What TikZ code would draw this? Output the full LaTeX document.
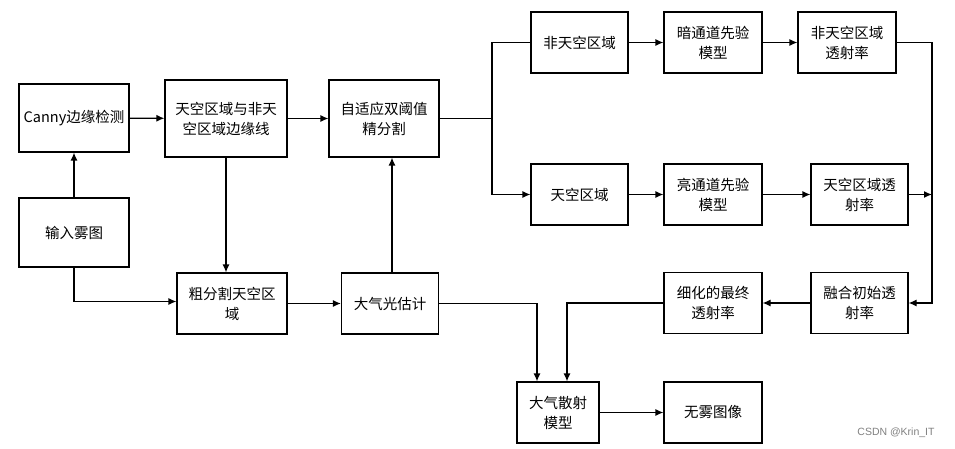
\documentclass[tikz,border=0pt]{standalone}
\usepackage{fontspec}
\setmainfont{Noto Sans CJK SC}
\newfontfamily\markfont{Liberation Sans}
\usepackage{tikz}
\usetikzlibrary{arrows.meta}

\begin{document}
\begin{tikzpicture}[x=1pt, y=-1pt, ->, >={Latex[length=8pt,width=7pt]}, line width=1.2pt, font=\fontsize{14.5}{20}\selectfont]

      \tikzstyle{box}=[draw, line width=1.2pt, align=center, inner sep=2pt, minimum width=97pt, minimum height=61pt]
      \tikzstyle{tall}=[box, minimum height=77pt]

      \useasboundingbox (0,0) rectangle (955,449);

      \node[box, minimum width=110pt, minimum height=68pt] (canny) at (74,118) {Canny边缘检测};
      \node[box, minimum width=110pt, minimum height=69pt] (input) at (74,232.5) {输入雾图};
      \node[tall, minimum width=122pt] (edge) at (226,118.5) {天空区域与非天\\空区域边缘线};
      \node[tall, minimum width=110pt] (fine) at (384,118.5) {自适应双阈值\\精分割};
      \node[box, minimum width=110pt] (coarse) at (232,303.5) {粗分割天空区\\域};
      \node[box] (airlight) at (390,303.5) {大气光估计};
      \node[box] (nonsky) at (579.5,42.5) {非天空区域};
      \node[box, minimum width=98pt] (dark) at (713,42.5) {暗通道先验\\模型};
      \node[box, minimum width=98pt] (nonskyT) at (847,42.5) {非天空区域\\透射率};
      \node[box] (sky) at (579.5,194.5) {天空区域};
      \node[box, minimum width=98pt] (bright) at (713,194.5) {亮通道先验\\模型};
      \node[box] (skyT) at (859.5,194.5) {天空区域透\\射率};
      \node[box] (fuse) at (859.5,303) {融合初始透\\射率};
      \node[box, minimum width=98pt] (refine) at (713,303) {细化的最终\\透射率};
      \node[box, minimum width=82pt] (scatter) at (558,412.5) {大气散射\\模型};
      \node[box, minimum width=98pt] (clear) at (713,412.5) {无雾图像};
      \node[text=gray, font=\markfont\fontsize{10.5}{12}\selectfont] (mark) at (896,433) {CSDN @Krin\_IT};

      \coordinate (split) at (492,118.5);
      \coordinate (rail) at (932,42.5);

      \path
      (canny) edge (edge)
      (edge) edge (fine)
      (input) edge (canny)
      (edge.south) edge (edge.south |- coarse.north)
      (coarse) edge (airlight)
      ([xshift=2pt]airlight.north) edge ([xshift=2pt]airlight.north |- fine.south)
      (nonsky) edge (dark)
      (dark) edge (nonskyT)
      (sky) edge (bright)
      (bright) edge (skyT)
      (skyT.east) edge (skyT.east -| rail)
      (fuse) edge (refine)
      (scatter) edge (clear);

      \draw (input.south) |- ([yshift=2pt]coarse.west);
      \draw[-] (fine.east) -- (split) |- (nonsky.west);
      \draw (split) |- (sky.west);
      \draw (nonskyT.east) -- (rail) |- (fuse.east);
      \draw (airlight.east) -| ([xshift=-21pt]scatter.north);
      \draw (refine.west) -| ([xshift=9pt]scatter.north);
    \end{tikzpicture}
\end{document}
